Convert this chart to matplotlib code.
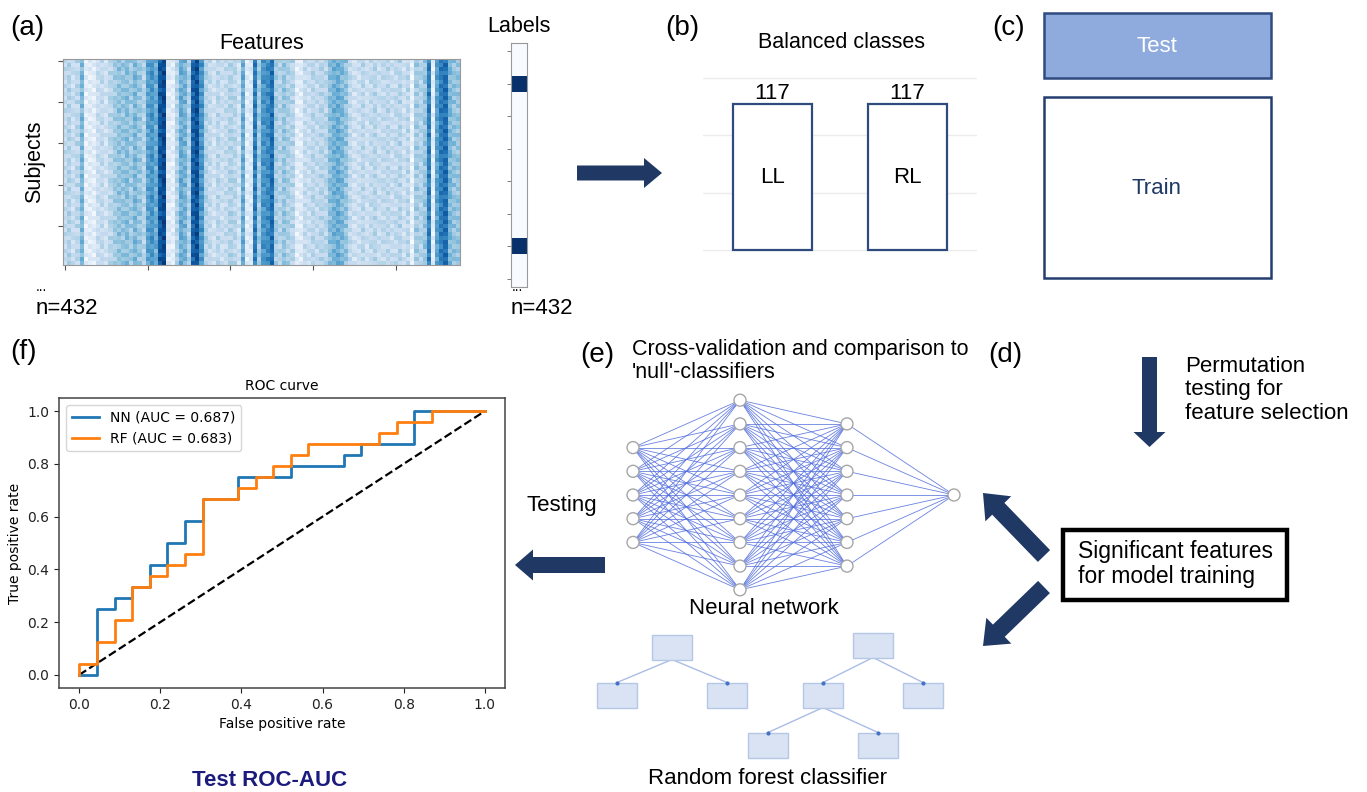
import numpy as np
import matplotlib
matplotlib.use('Agg')
import matplotlib.pyplot as plt
from matplotlib.patches import Rectangle, FancyArrow, Circle
from matplotlib.collections import LineCollection

plt.rcParams['font.family'] = ['Liberation Sans', 'DejaVu Sans']

# ---- data ----
# mean intensity of each feature column (96 columns)
feature_levels = [0.25, 0.30, 0.22, 0.28, 0.45, 0.10, 0.12, 0.10,
                  0.22, 0.25, 0.20, 0.28,
                  0.35, 0.40, 0.38, 0.42, 0.36, 0.45, 0.38, 0.30,
                  0.55, 0.60, 0.50, 0.85, 0.90, 0.12, 0.10, 0.30, 0.50, 0.48, 0.30,
                  0.80, 0.88, 0.60,
                  0.30, 0.25, 0.20, 0.28, 0.22, 0.25, 0.30, 0.28, 0.20,
                  0.50, 0.12, 0.15, 0.70, 0.35, 0.60, 0.65, 0.75,
                  0.35, 0.30, 0.38, 0.32, 0.30, 0.10, 0.12,
                  0.25, 0.22, 0.28, 0.25, 0.30, 0.28,
                  0.42, 0.48, 0.50, 0.45, 0.40,
                  0.25, 0.20, 0.22, 0.28, 0.20, 0.25, 0.30, 0.22, 0.25, 0.28,
                  0.22, 0.25, 0.30, 0.20, 0.28,
                  0.08, 0.35, 0.30, 0.38, 0.70, 0.10, 0.55, 0.70, 0.75,
                  0.45, 0.40, 0.38]
# per-cell deviation pattern (repeated over the matrix)
texture = [
    [0.04, -0.06, 0.02, 0.08, -0.03, -0.07, 0.05, 0.00, -0.04, 0.07, -0.08, 0.03, 0.01],
    [-0.05, 0.07, -0.02, -0.08, 0.06, 0.01, -0.04, 0.08, 0.03, -0.06, 0.02, -0.01, 0.06],
    [0.08, 0.00, 0.05, -0.04, -0.07, 0.04, 0.07, -0.05, -0.02, 0.01, 0.06, -0.07, -0.03],
    [-0.02, -0.08, 0.07, 0.03, 0.02, -0.05, -0.01, 0.04, 0.08, -0.03, -0.05, 0.08, 0.00],
    [0.01, 0.05, -0.06, 0.00, 0.08, 0.07, -0.08, -0.02, 0.05, 0.04, 0.00, -0.04, 0.07],
    [-0.07, 0.03, 0.01, -0.05, -0.01, -0.03, 0.06, 0.02, -0.07, 0.08, -0.02, 0.05, -0.06],
    [0.06, -0.04, -0.08, 0.07, 0.04, 0.00, -0.06, 0.07, 0.01, -0.08, 0.04, 0.02, -0.02],
    [-0.03, 0.08, 0.04, -0.01, -0.06, 0.08, 0.02, -0.07, 0.06, 0.00, -0.07, -0.05, 0.04],
    [0.02, -0.01, -0.03, 0.05, 0.07, -0.08, 0.03, 0.05, -0.05, 0.03, 0.07, 0.00, -0.08],
    [-0.04, 0.06, 0.08, -0.07, 0.00, 0.05, -0.03, -0.06, 0.02, -0.01, -0.04, 0.07, 0.05],
]
n_subjects = 50
label_values = [0, 0, 1, 0, 0, 0, 0, 0, 0, 0, 0, 0, 1, 0, 0]

class_names = ['LL', 'RL']
class_counts = [117, 117]

nn_fpr = [0, 0.0435, 0.0435, 0.087, 0.087, 0.1304, 0.1304, 0.1739, 0.1739,
          0.2174, 0.2174, 0.2609, 0.2609, 0.3043, 0.3043, 0.3913, 0.3913,
          0.5217, 0.5217, 0.6522, 0.6522, 0.6957, 0.6957, 0.8261, 0.8261, 1]
nn_tpr = [0, 0, 0.25, 0.25, 0.2917, 0.2917, 0.3333, 0.3333, 0.4167, 0.4167,
          0.5, 0.5, 0.5833, 0.5833, 0.6667, 0.6667, 0.75, 0.75, 0.7917,
          0.7917, 0.8333, 0.8333, 0.875, 0.875, 1, 1]
rf_fpr = [0, 0, 0.0435, 0.0435, 0.087, 0.087, 0.1304, 0.1304, 0.1739, 0.1739,
          0.2174, 0.2174, 0.2609, 0.2609, 0.3043, 0.3043, 0.3913, 0.3913,
          0.4348, 0.4348, 0.4783, 0.4783, 0.5217, 0.5217, 0.5652, 0.5652,
          0.7391, 0.7391, 0.7826, 0.7826, 0.8696, 0.8696, 1]
rf_tpr = [0, 0.0417, 0.0417, 0.125, 0.125, 0.2083, 0.2083, 0.3333, 0.3333,
          0.375, 0.375, 0.4167, 0.4167, 0.4583, 0.4583, 0.6667, 0.6667,
          0.7083, 0.7083, 0.75, 0.75, 0.7917, 0.7917, 0.8333, 0.8333, 0.875,
          0.875, 0.9167, 0.9167, 0.9583, 0.9583, 1, 1]
nn_auc = 0.687
rf_auc = 0.683

layer_sizes = [5, 9, 7, 1]

navy = '#203864'
W, H = 1367, 792

fig = plt.figure(figsize=(W / 100, H / 100), dpi=100, facecolor='white')

# overlay in pixel coordinates for the schematic parts
ov = fig.add_axes([0, 0, 1, 1])
ov.set_xlim(0, W)
ov.set_ylim(H, 0)
ov.axis('off')
ov.patch.set_alpha(0)


def frac(left, top, right, bottom):
    return [left / W, (H - bottom) / H, (right - left) / W, (bottom - top) / H]


# ---- (a) features heat map ----
ax_a = fig.add_axes(frac(63, 59, 460, 265))
tile = np.array(texture)
reps = (n_subjects // tile.shape[0] + 1, len(feature_levels) // tile.shape[1] + 1)
noise = np.tile(tile, reps)[:n_subjects, :len(feature_levels)]
mat = np.clip(np.array(feature_levels)[None, :] + noise, 0, 1)
ax_a.imshow(mat, cmap='Blues', vmin=0, vmax=1, aspect='auto', interpolation='nearest')
ax_a.set_xticks(range(0, len(feature_levels), 20))
ax_a.set_yticks(range(0, n_subjects, 10))
ax_a.set_xticklabels([])
ax_a.set_yticklabels([])
ax_a.tick_params(length=3.5, color='#555555', width=0.8)
for s in ax_a.spines.values():
    s.set_color('#999999')
ax_a.set_title('Features', fontsize=15.5, pad=7)
ax_a.set_ylabel('Subjects', fontsize=15.5, labelpad=6)

ax_l = fig.add_axes(frac(511, 43, 527, 287))
ax_l.imshow(np.array(label_values)[:, None], cmap='Blues', vmin=0, vmax=1,
            aspect='auto', interpolation='nearest')
ax_l.set_xticks([])
ax_l.set_yticks(range(0, len(label_values), 2))
ax_l.set_yticklabels([])
ax_l.tick_params(length=3, color='#666666', width=0.6)
for s in ax_l.spines.values():
    s.set_color('#999999')
ax_l.set_title('Labels', fontsize=15.5, pad=8)

ov.text(10, 28, '(a)', fontsize=20, va='center', ha='left')
ov.text(36, 287, '...', fontsize=10, va='center', ha='left')
ov.text(36, 309, 'n=432', fontsize=16, va='center', ha='left')
ov.text(512, 287, '...', fontsize=10, va='center', ha='left')
ov.text(511, 309, 'n=432', fontsize=16, va='center', ha='left')

ov.add_patch(FancyArrow(577, 173, 85, 0, width=15, head_width=30, head_length=18,
                        length_includes_head=True, color=navy, lw=0))

# ---- (b) balanced classes ----
px_per_unit = 172 / 138
ax_b = fig.add_axes(frac(703, 78 - 2 * px_per_unit, 977, 250 + 2 * px_per_unit))
bars = ax_b.bar(range(len(class_counts)), class_counts, width=0.585, color='white',
                edgecolor='#2f4a7c', linewidth=1.6, zorder=3)
ax_b.bar_label(bars, labels=[str(c) for c in class_counts], fontsize=16, padding=0)
for i, (name, c) in enumerate(zip(class_names, class_counts)):
    ax_b.text(i, c / 2, name, fontsize=16, ha='center', va='center', zorder=4)
ax_b.set_xlim(-0.515, 1.515)
ax_b.set_ylim(-2, 140)
ax_b.set_yticks([0, 46, 92, 138])
ax_b.set_xticks([])
ax_b.yaxis.grid(True, color='#ececec', lw=1)
ax_b.tick_params(left=False, labelleft=False)
for s in ax_b.spines.values():
    s.set_visible(False)
ax_b.patch.set_alpha(0)
ov.text(665, 28, '(b)', fontsize=20, va='center', ha='left')
ov.text(841, 43, 'Balanced classes', fontsize=15.5, va='center', ha='center')

# ---- (c) train / test split ----
ov.text(992, 28, '(c)', fontsize=20, va='center', ha='left')
ov.add_patch(Rectangle((1044, 13), 227, 65, facecolor='#8faadc', edgecolor='#2f4b80', lw=1.8))
ov.text(1157, 46, 'Test', fontsize=16, color='white', ha='center', va='center')
ov.add_patch(Rectangle((1044, 97), 227, 181, facecolor='white', edgecolor='#233e6e', lw=1.8))
ov.text(1157, 188, 'Train', fontsize=16, color=navy, ha='center', va='center')

# ---- (d) feature selection ----
ov.text(988, 355, '(d)', fontsize=20, va='center', ha='left')
ov.add_patch(FancyArrow(1149.5, 357, 0, 90, width=15, head_width=32, head_length=15,
                        length_includes_head=True, color=navy, lw=0))
ov.text(1185, 390, 'Permutation\ntesting for\nfeature selection', fontsize=16,
        ha='left', va='center', linespacing=1.15)
ov.add_patch(Rectangle((1063, 530), 224, 70, facecolor='white', edgecolor='black', lw=3.2))
ov.text(1175, 564, 'Significant features\nfor model training', fontsize=16.5,
        ha='center', va='center', multialignment='left', linespacing=1.15)
ov.add_patch(FancyArrow(1044, 556, -61, -63, width=17, head_width=36, head_length=22,
                        length_includes_head=True, color=navy, lw=0))
ov.add_patch(FancyArrow(1044, 587, -61, 59, width=17, head_width=36, head_length=22,
                        length_includes_head=True, color=navy, lw=0))

# ---- (e) models ----
ov.text(580, 355, '(e)', fontsize=20, va='center', ha='left')
ov.text(632, 361, "Cross-validation and comparison to\n'null'-classifiers", fontsize=15.5,
        ha='left', va='center', linespacing=1.1)

layer_x = [633, 740, 847, 954]
node_gap = 23.7
layers = []
for x, n in zip(layer_x, layer_sizes):
    layers.append([(x, 495 + (i - (n - 1) / 2) * node_gap) for i in range(n)])
segs = []
for a, b in zip(layers[:-1], layers[1:]):
    for p in a:
        for q in b:
            segs.append([p, q])
ov.add_collection(LineCollection(segs, colors='#4f6bdc', linewidths=0.6, alpha=0.85, zorder=2))
for layer in layers:
    for (x, y) in layer:
        ov.add_patch(Circle((x, y), 6, facecolor='white', edgecolor='#a6a6a6', lw=1, zorder=3))
ov.text(764, 609, 'Neural network', fontsize=16, ha='center', va='center')

# decision trees (box centres in pixels)
tree_nodes = {'r1': (672, 647), 'a1': (617, 695), 'b1': (727, 695),
              'r2': (873, 645), 'a2': (823, 695), 'b2': (923, 695),
              'c2': (768, 745), 'd2': (878, 745)}
tree_edges = [('r1', 'a1'), ('r1', 'b1'), ('r2', 'a2'), ('r2', 'b2'),
              ('a2', 'c2'), ('a2', 'd2')]
bw, bh = 40, 25
for p, c in tree_edges:
    x0, y0 = tree_nodes[p]
    x1, y1 = tree_nodes[c]
    ov.plot([x0, x1], [y0 + bh / 2, y1 - bh / 2], color='#a9bde6', lw=1, zorder=2)
    ov.plot([x1], [y1 - bh / 2], 'o', color='#4472c4', ms=2, zorder=4)
for (x, y) in tree_nodes.values():
    ov.add_patch(Rectangle((x - bw / 2, y - bh / 2), bw, bh, facecolor='#dae3f3',
                           edgecolor='#b4c7e7', lw=1, zorder=3))
ov.text(768, 779, 'Random forest classifier', fontsize=16, ha='center', va='center')

ov.text(562, 505, 'Testing', fontsize=16, ha='center', va='center')
ov.add_patch(FancyArrow(605, 565, -90, 0, width=16, head_width=31, head_length=18,
                        length_includes_head=True, color=navy, lw=0))

# ---- (f) ROC curve ----
ov.text(10, 352, '(f)', fontsize=20, va='center', ha='left')
ax_f = fig.add_axes(frac(59, 398, 505, 688))
ax_f.plot([0, 1], [0, 1], 'k--', lw=1.6)
ax_f.plot(nn_fpr, nn_tpr, color='#1f77b4', lw=2, label='NN (AUC = %.3f)' % nn_auc)
ax_f.plot(rf_fpr, rf_tpr, color='#ff7f0e', lw=2, label='RF (AUC = %.3f)' % rf_auc)
ax_f.set_xticks([0, 0.2, 0.4, 0.6, 0.8, 1.0])
ax_f.set_yticks([0, 0.2, 0.4, 0.6, 0.8, 1.0])
ax_f.tick_params(labelsize=10, colors='#222222')
ax_f.set_title('ROC curve', fontsize=10, family='DejaVu Sans', pad=6)
ax_f.set_xlabel('False positive rate', fontsize=10, family='DejaVu Sans')
ax_f.set_ylabel('True positive rate', fontsize=10, family='DejaVu Sans')
for lab in ax_f.get_xticklabels() + ax_f.get_yticklabels():
    lab.set_family('DejaVu Sans')
for s in ax_f.spines.values():
    s.set_color('#444444')
    s.set_linewidth(1.1)
ax_f.legend(loc='upper left', prop={'size': 10, 'family': 'DejaVu Sans'})
ov.text(270, 780, 'Test ROC-AUC', fontsize=16, fontweight='bold', color='#1b1b7e',
        ha='center', va='center')

fig.savefig('out.png', dpi=100, facecolor='white')
